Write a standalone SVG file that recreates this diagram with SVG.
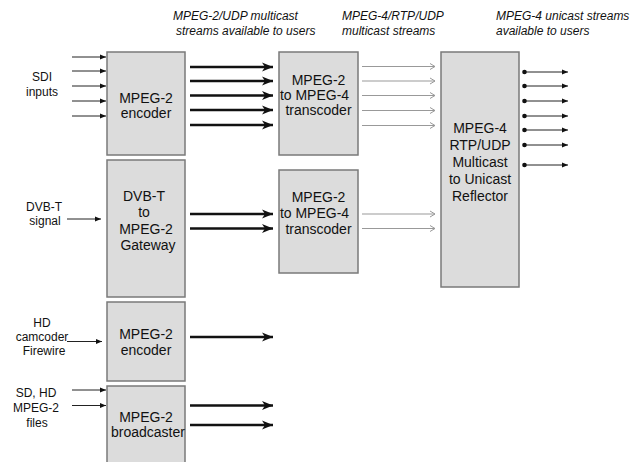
<svg xmlns="http://www.w3.org/2000/svg" width="640" height="462" viewBox="0 0 640 462">
<style>
.box{fill:#dcdcdc;stroke:#7a7a7a;stroke-width:1.5}
.t{font-family:"Liberation Sans",Arial,sans-serif;font-size:14px;fill:#111;text-anchor:middle}
.l{font-family:"Liberation Sans",Arial,sans-serif;font-size:12px;fill:#111;text-anchor:middle}
.h{font-family:"Liberation Sans",Arial,sans-serif;font-size:12px;font-style:italic;fill:#111}
.thin{stroke:#222;stroke-width:1;fill:none}
.thick{stroke:#111;stroke-width:2.6;fill:none}
.gray{stroke:#999;stroke-width:1.2;fill:none}
</style>
<defs>
<marker id="aThin" markerUnits="userSpaceOnUse" markerWidth="7" markerHeight="6" refX="6" refY="3" orient="auto"><path d="M0,0.5 L6,3 L0,5.5 z" fill="#111"/></marker>
<marker id="aThick" markerUnits="userSpaceOnUse" markerWidth="12" markerHeight="10" refX="11" refY="5" orient="auto"><path d="M0,0.5 L11,5 L0,9.5 L3,5 z" fill="#111"/></marker>
<marker id="aGray" markerUnits="userSpaceOnUse" markerWidth="8" markerHeight="8" refX="6" refY="4" orient="auto"><path d="M1,1 L6,4 L1,7" fill="none" stroke="#999" stroke-width="1"/></marker>
<marker id="dot" markerUnits="userSpaceOnUse" markerWidth="6" markerHeight="6" refX="3" refY="3"><circle cx="3" cy="3" r="2.3" fill="#111"/></marker>
</defs>

<g id="headers">
<text class="h" x="173" y="20">MPEG-2/UDP multicast</text>
<text class="h" x="176" y="35">streams available to users</text>
<text class="h" x="342" y="20">MPEG-4/RTP/UDP</text>
<text class="h" x="342" y="35">multicast streams</text>
<text class="h" x="496" y="20">MPEG-4 unicast streams</text>
<text class="h" x="496" y="35">available to users</text>
</g>

<g id="labels">
<text class="l" x="42" y="81">SDI</text>
<text class="l" x="42" y="96">inputs</text>
<text class="l" x="44" y="211">DVB-T</text>
<text class="l" x="45" y="225">signal</text>
<text class="l" x="42" y="327">HD</text>
<text class="l" x="42" y="341">camcoder</text>
<text class="l" x="44" y="355">Firewire</text>
<text class="l" x="36" y="397">SD, HD</text>
<text class="l" x="36" y="412">MPEG-2</text>
<text class="l" x="37" y="427">files</text>
</g>

<g id="enc1">
<rect class="box" x="107" y="52" width="78" height="103"/>
<text class="t" x="146" y="103">MPEG-2</text>
<text class="t" x="146" y="118">encoder</text>
</g>
<g id="gateway">
<rect class="box" x="107" y="160" width="78" height="137"/>
<text class="t" x="144" y="201">DVB-T</text>
<text class="t" x="144" y="217">to</text>
<text class="t" x="146" y="234">MPEG-2</text>
<text class="t" x="148" y="250">Gateway</text>
</g>
<g id="enc2">
<rect class="box" x="107" y="302" width="78" height="79"/>
<text class="t" x="146" y="339">MPEG-2</text>
<text class="t" x="146" y="355">encoder</text>
</g>
<g id="broadcaster">
<rect class="box" x="107" y="386" width="78" height="90"/>
<text class="t" x="146" y="422">MPEG-2</text>
<text class="t" x="148" y="437">broadcaster</text>
</g>
<g id="trans1">
<rect class="box" x="279" y="52" width="79" height="103"/>
<text class="t" x="318.5" y="85">MPEG-2</text>
<text class="t" x="314.5" y="100">to MPEG-4</text>
<text class="t" x="318.5" y="115">transcoder</text>
</g>
<g id="trans2">
<rect class="box" x="279" y="170" width="79" height="103"/>
<text class="t" x="318.5" y="202">MPEG-2</text>
<text class="t" x="314.5" y="218">to MPEG-4</text>
<text class="t" x="318.5" y="234">transcoder</text>
</g>
<g id="reflector">
<rect class="box" x="441" y="52" width="78" height="235"/>
<text class="t" x="480" y="133">MPEG-4</text>
<text class="t" x="480" y="150">RTP/UDP</text>
<text class="t" x="480" y="167">Multicast</text>
<text class="t" x="480" y="184">to Unicast</text>
<text class="t" x="480" y="201">Reflector</text>
</g>

<g id="connectors">
<g class="thin" marker-end="url(#aThin)">
<line x1="72" y1="57" x2="106" y2="57"/>
<line x1="72" y1="71" x2="106" y2="71"/>
<line x1="72" y1="86" x2="106" y2="86"/>
<line x1="72" y1="101" x2="106" y2="101"/>
<line x1="72" y1="116" x2="106" y2="116"/>
<line x1="67" y1="219" x2="101" y2="219"/>
<line x1="67" y1="341.5" x2="102" y2="341.5"/>
<line x1="72" y1="390" x2="106" y2="390"/>
<line x1="72" y1="405.5" x2="106" y2="405.5"/>
</g>
<g class="thick" marker-end="url(#aThick)">
<line x1="190" y1="67" x2="273" y2="67"/>
<line x1="190" y1="81" x2="273" y2="81"/>
<line x1="190" y1="95.5" x2="273" y2="95.5"/>
<line x1="190" y1="110" x2="273" y2="110"/>
<line x1="190" y1="125" x2="273" y2="125"/>
<line x1="190" y1="214" x2="273" y2="214"/>
<line x1="190" y1="228.5" x2="273" y2="228.5"/>
<line x1="190" y1="337" x2="273" y2="337"/>
<line x1="190" y1="405.5" x2="273" y2="405.5"/>
<line x1="190" y1="425" x2="273" y2="425"/>
</g>
<g class="gray" marker-end="url(#aGray)">
<line x1="362" y1="66.5" x2="435" y2="66.5"/>
<line x1="362" y1="81" x2="435" y2="81"/>
<line x1="362" y1="95.5" x2="435" y2="95.5"/>
<line x1="362" y1="110.5" x2="435" y2="110.5"/>
<line x1="362" y1="125.5" x2="435" y2="125.5"/>
<line x1="362" y1="214" x2="435" y2="214"/>
<line x1="362" y1="228.5" x2="435" y2="228.5"/>
</g>
<g class="thin" marker-start="url(#dot)" marker-end="url(#aThin)">
<line x1="524.5" y1="72" x2="568" y2="72"/>
<line x1="524.5" y1="86" x2="568" y2="86"/>
<line x1="524.5" y1="101" x2="568" y2="101"/>
<line x1="524.5" y1="116" x2="568" y2="116"/>
<line x1="524.5" y1="130" x2="568" y2="130"/>
<line x1="524.5" y1="145" x2="568" y2="145"/>
<line x1="524.5" y1="165" x2="568" y2="165"/>
</g>
</g>
</svg>
